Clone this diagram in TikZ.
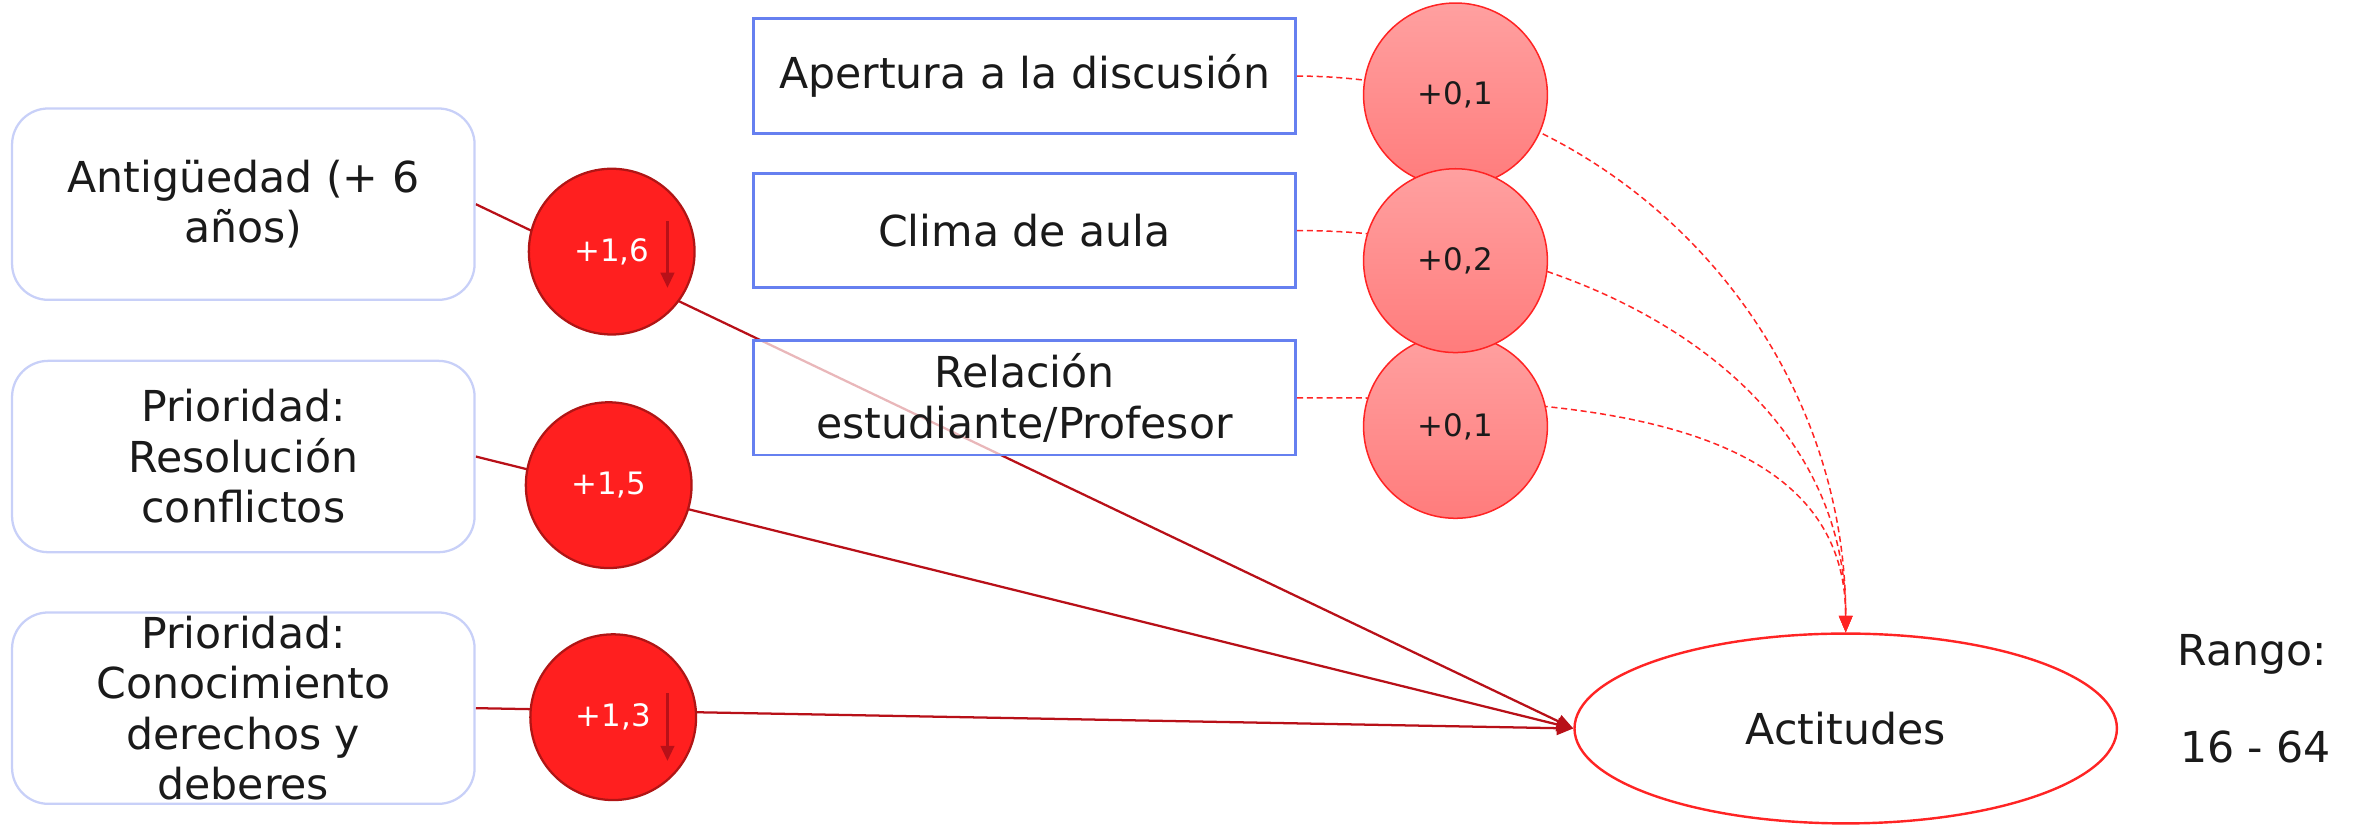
\documentclass[tikz,border=0pt]{standalone}
\usepackage{fontspec}
\setmainfont{DejaVu Sans}
\usetikzlibrary{shapes.geometric,arrows.meta}
\pgfdeclarelayer{background}
\pgfsetlayers{background,main}
\definecolor{txt}{HTML}{1A1A1A}
\definecolor{lav}{HTML}{C8D0F8}
\definecolor{bluebd}{HTML}{6680F0}
\definecolor{redfill}{HTML}{FF1F1F}
\definecolor{redbd}{HTML}{B01515}
\definecolor{darkred}{HTML}{B81018}
\definecolor{pinktop}{HTML}{FFA0A0}
\definecolor{pinkbot}{HTML}{FF7C7C}
\definecolor{brightred}{HTML}{FF2424}
\begin{document}
\begin{tikzpicture}[x=1pt,y=-1pt,
  bigtext/.style={font=\fontsize{28.3}{33.5}\selectfont, text=txt, align=center},
  leftbox/.style={bigtext, draw=lav, line width=1.5, rounded corners=24, fill=white, minimum width=307, minimum height=127, inner sep=0},
  bluebox/.style={bigtext, draw=bluebd, line width=1.8, fill=white, fill opacity=0.7, text opacity=1, minimum width=360, minimum height=76, inner sep=0},
  redcirc/.style={circle, fill=redfill, draw=redbd, line width=1.5, minimum size=110, inner sep=0, text=white, font=\fontsize{20.5}{24}\selectfont},
  pinkcirc/.style={circle, top color=pinktop, bottom color=pinkbot, draw=brightred, line width=1, minimum size=122, inner sep=0, text=txt, font=\fontsize{20.5}{24}\selectfont},
  outcome/.style={ellipse, draw=brightred, line width=1.6, fill=white, minimum width=360, minimum height=126, inner sep=0, bigtext},
  plain/.style={bigtext, inner sep=0},
  solidarrow/.style={draw=darkred, line width=1.5, -{Triangle[length=11,width=9]}},
  dasharrow/.style={draw=brightred, line width=1, dash pattern=on 4 off 2.5, -{Triangle[length=11,width=9]}},
  smallarr/.style={draw=darkred, line width=1.6, -{Triangle[length=10,width=9]}}
]
\useasboundingbox (0,0) rectangle (1567,547.6);

% left boxes
\node[leftbox] (b1) at (161.5,135.5) {Antigüedad (+ 6\\años)};
\node[leftbox] (b2) at (161.5,303) {Prioridad:\\Resolución\\conflictos};
\node[leftbox] (b3) at (161.5,470) {Prioridad:\\Conocimiento\\derechos y\\deberes};

% red circles
\node[redcirc] (c1) at (406,167) {+1,6};
\node[redcirc] (c2) at (404,322) {+1,5};
\node[redcirc] (c3) at (407,476) {+1,3};
\draw[smallarr] ([shift={(37,-20)}]c1.center) -- ([shift={(37,24)}]c1.center);
\draw[smallarr] ([shift={(36,-16)}]c3.center) -- ([shift={(36,29)}]c3.center);

% blue boxes
\node[bluebox] (bb1) at (680,50.5) {Apertura a la discusión};
\node[bluebox] (bb2) at (680,153) {Clima de aula};
\node[bluebox] (bb3) at (680,264) {Relación\\estudiante/Profesor};

% pink circles
\node[pinkcirc] (p1) at (966,63) {+0,1};
\node[pinkcirc] (p3) at (966,283) {+0,1};
\node[pinkcirc] (p2) at (966,173) {+0,2};

% outcome
\node[outcome] (act) at (1225,483.5) {Actitudes};
\node[plain] (rango) at (1495,434) {Rango:};
\node[plain] (range) at (1497,496) {16 - 64};

\begin{pgfonlayer}{background}
\draw[solidarrow] (b1.east) -- (act.west);
\draw[solidarrow] (b2.east) -- (act.west);
\draw[solidarrow] (b3.east) -- (act.west);
\draw[dasharrow] (bb1.east) to[out=0,in=90] (act.north);
\draw[dasharrow] (bb2.east) to[out=0,in=90] (act.north);
\draw[dasharrow] (bb3.east) to[out=0,in=90] (act.north);
\end{pgfonlayer}
\end{tikzpicture}
\end{document}
